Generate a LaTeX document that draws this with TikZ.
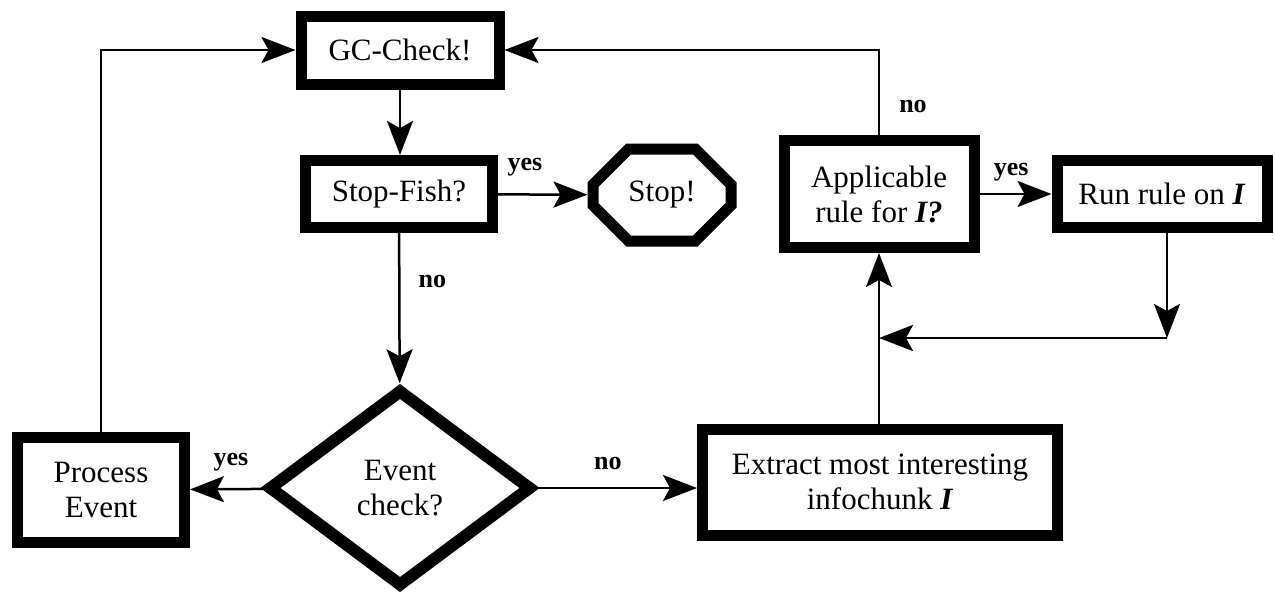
\documentclass[tikz,border=0pt]{standalone}
\usepackage{fontspec}
\setmainfont{Liberation Serif}
\usetikzlibrary{arrows.meta,shapes.geometric,shapes.misc}

\begin{document}
\begin{tikzpicture}[x=1pt,y=-1pt,
      mybox/.style={
         draw=black,
         line width=11pt,
         inner sep=0pt,
         align=center,
         font=\fontsize{31}{35}\selectfont},
      mydiamond/.style={
         diamond,
         draw=black,
         line width=12pt,
         inner sep=0pt,
         align=center,
         font=\fontsize{31}{35}\selectfont},
      myoctagon/.style={
         chamfered rectangle,
         chamfered rectangle xsep=24pt,
         chamfered rectangle ysep=22pt,
         draw=black,
         line width=11pt,
         inner sep=0pt,
         font=\fontsize{31}{35}\selectfont},
      myarrow/.style={line width=2.5pt, -{Stealth[length=34pt, width=26pt, inset=7pt]}},
      mylabel/.style={inner sep=0pt, font=\fontsize{26}{28}\selectfont\bfseries}
      ]
      \useasboundingbox (0,0) rectangle (1275,592);

      \node[mybox, minimum width=198pt, minimum height=68pt] (gc) at (400,50) {GC-Check!};
      \node[mybox, minimum width=187pt, minimum height=67pt] (fish) at (399,194) {Stop-Fish?};
      \node[myoctagon, minimum width=138pt, minimum height=92pt] (stop) at (662,195) {Stop!};
      \node[mydiamond, minimum width=264pt, minimum height=198pt] (event) at (400,488) {Event\\check?};
      \node[mybox, minimum width=167pt, minimum height=105pt] (proc) at (101,490) {Process\\Event};
      \node[mybox, minimum width=355pt, minimum height=106pt] (extract) at (880,482) {Extract most interesting\\infochunk \textbf{\textit{I}}};
      \node[mybox, minimum width=190pt, minimum height=107pt] (appl) at (879,194) {Applicable\\rule for \textbf{\textit{I?}}};
      \node[mybox, minimum width=210pt, minimum height=67pt] (run) at (1162,194) {Run rule on \textbf{\textit{I}}};

      \coordinate (join) at (1167,338);

\draw[myarrow] (gc) -- (gc |- fish.north);
\draw[myarrow] (fish) -- node[mylabel, pos=0.3, above=17pt] (yes1) {yes} (stop);
\draw[myarrow] (fish) -- node[mylabel, pos=0.32, right=18pt] (no1) {no} (event);
\draw[myarrow] (event) -- node[mylabel, pos=0.44, above=17pt] (yes2) {yes} (proc);
\draw[myarrow] (event.east) -- node[mylabel, pos=0.44, above=17pt] (no2) {no} (event.east -| extract.west);
\draw[myarrow] (proc.north) |- (gc.west);
%
\draw[myarrow] (appl.south |- extract.north) -- (appl.south);
\draw[myarrow] (appl.north) |- node[mylabel, pos=0.17, right=19pt] (no3) {no} (gc.east);
\draw[myarrow] (appl) -- node[mylabel, pos=0.44, above=12pt] (yes3) {yes} (run);
\draw[myarrow] (run.south -| join) -- (join);
\draw[myarrow] (join) -- (join -| appl.south);

    \end{tikzpicture}
\end{document}
